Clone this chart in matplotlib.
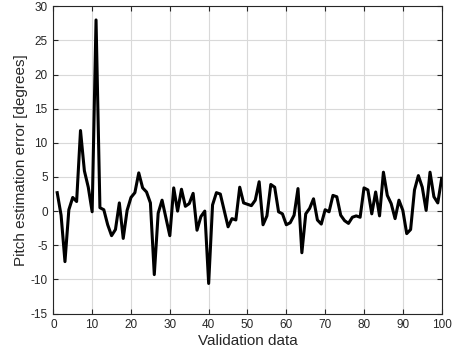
import matplotlib
matplotlib.use('Agg')
import matplotlib.pyplot as plt
import numpy as np

plt.rcParams['font.family'] = ['Liberation Sans', 'DejaVu Sans']
plt.rcParams['axes.unicode_minus'] = False

# validation samples 1..100
sample = np.arange(1, 101)

# pitch estimation error [deg]
pitch_err = [
    2.7, -0.6, -7.4, 0.2, 2.0, 1.4, 11.8, 5.9, 3.5, -0.1,
    28.0, 0.5, 0.2, -2.0, -3.6, -2.7, 1.2, -4.0, 0.1, 2.0,
    2.7, 5.6, 3.4, 2.8, 1.2, -9.3, -0.3, 1.6, -1.0, -3.6,
    3.4, 0.0, 3.2, 0.7, 1.1, 2.6, -2.8, -0.8, 0.0, -10.6,
    0.9, 2.7, 2.5, 0.1, -2.3, -1.1, -1.3, 3.5, 1.2, 1.0,
    0.8, 1.6, 4.3, -2.0, -0.7, 3.9, 3.5, -0.1, -0.4, -2.0,
    -1.7, -0.6, 3.3, -6.1, -0.4, 0.4, 1.8, -1.3, -1.9, 0.2,
    -0.1, 2.3, 2.1, -0.6, -1.4, -1.8, -0.9, -0.7, -0.9, 3.4,
    3.1, -0.4, 2.8, -0.7, 5.7, 2.3, 1.1, -1.1, 1.6, 0.1,
    -3.3, -2.7, 3.1, 5.2, 3.5, 0.1, 5.7, 2.1, 1.2, 4.8,
]

xticks = np.arange(0, 101, 10)
yticks = np.arange(-15, 31, 5)

fig = plt.figure(figsize=(4.53, 3.59), dpi=100)
ax = fig.add_axes([0.1177, 0.1267, 0.8573, 0.8558])

ax.plot(sample, pitch_err, color='black', linewidth=2.2)

ax.set_xlim(0, 100)
ax.set_ylim(-15, 30)
ax.set_xticks(xticks)
ax.set_yticks(yticks)

# matlab-like look
ax.grid(True, color='#d9d9d9', linewidth=0.8)
ax.set_axisbelow(True)
for s in ax.spines.values():
    s.set_color('#262626')
    s.set_linewidth(0.8)
ax.tick_params(direction='in', top=True, right=True, length=3.5,
               width=0.8, color='#262626', labelsize=8.5, labelcolor='#262626',
               pad=4)

ax.set_xlabel('Validation data', fontsize=11, color='#262626', labelpad=2)
ax.set_ylabel('Pitch estimation error [degrees]', fontsize=11,
              color='#262626', labelpad=2)

fig.savefig('out.png', dpi=100)
